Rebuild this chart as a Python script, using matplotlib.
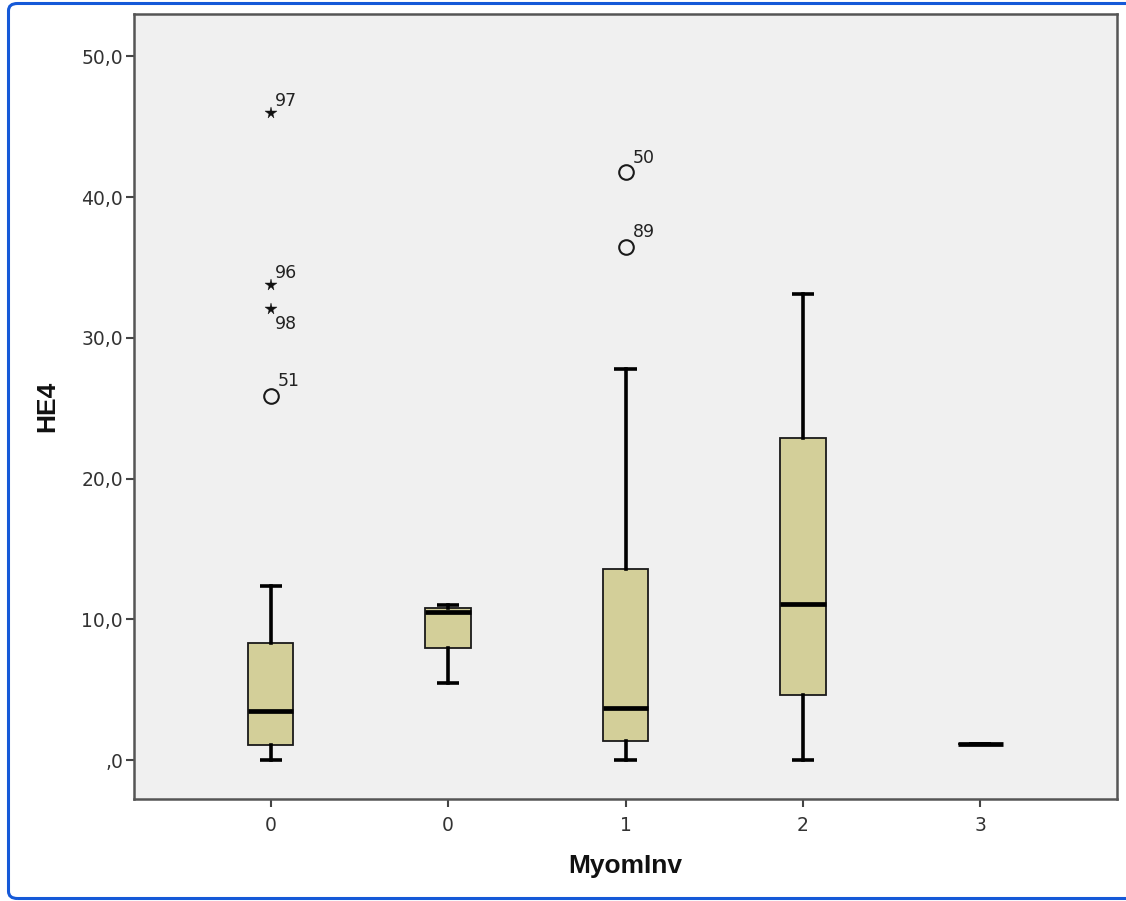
import matplotlib
matplotlib.use("Agg")
import matplotlib.pyplot as plt
from matplotlib.patches import FancyBboxPatch
from matplotlib.ticker import FuncFormatter, FixedLocator

# ---- data ----
categories = ["0", "0", "1", "2", "3"]
whislo = [0.0, 5.5, 0.0, 0.0, 1.13]
q1 = [1.05, 8.0, 1.35, 4.65, 1.13]
med = [3.5, 10.55, 3.7, 11.1, 1.13]
q3 = [8.3, 10.85, 13.6, 22.9, 1.13]
whishi = [12.35, 11.0, 27.8, 33.1, 1.13]

# outliers: (group index, value, case label)
outlier_group = [0, 2, 2]
outlier_value = [25.9, 36.45, 41.75]
outlier_label = ["51", "89", "50"]
extreme_group = [0, 0, 0]
extreme_value = [46.0, 33.75, 32.05]
extreme_label = ["97", "96", "98"]

yticks = [0, 10, 20, 30, 40, 50]

fig = plt.figure(figsize=(11.26, 9.01), dpi=100)
ax = fig.add_axes([134/1126, 1 - 799/901, (1117-134)/1126, (799-14)/901])
ax.set_facecolor("#f0f0f0")

positions = list(range(len(categories)))
stats = []
for i in positions:
    stats.append(dict(whislo=whislo[i], q1=q1[i], med=med[i], q3=q3[i],
                      whishi=whishi[i], fliers=[]))

ax.bxp(stats, positions=positions, widths=0.255, patch_artist=True,
       showfliers=False,
       boxprops=dict(facecolor="#d3cf99", edgecolor="#1a1a1a", linewidth=1.3),
       medianprops=dict(color="black", linewidth=3.4, solid_capstyle="butt"),
       whiskerprops=dict(color="black", linewidth=2.6),
       capprops=dict(color="black", linewidth=2.6, solid_capstyle="butt"),
       capwidths=0.125)

# outliers
ox = [positions[g] for g in outlier_group]
ax.plot(ox, outlier_value, linestyle="none", marker="o", markersize=10.5,
        markerfacecolor="none", markeredgecolor="#1a1a1a", markeredgewidth=1.5)
ex = [positions[g] for g in extreme_group]
ax.plot(ex, extreme_value, linestyle="none", marker="*", markersize=8.5,
        color="#111111", markeredgewidth=0.3)

lab_kw = dict(fontsize=12.5, color="#222222", textcoords="offset points", ha="left")
for x, v, lab in zip(ox, outlier_value, outlier_label):
    ax.annotate(lab, (x, v), xytext=(5, 4), va="bottom", **lab_kw)
for x, v, lab in zip(ex, extreme_value, extreme_label):
    if lab == "98":
        ax.annotate(lab, (x, v), xytext=(3, -4), va="top", **lab_kw)
    else:
        ax.annotate(lab, (x, v), xytext=(3, 2), va="bottom", **lab_kw)

ax.set_xlim(-0.77, 4.77)
ax.set_ylim(-2.75, 53.0)
ax.yaxis.set_major_locator(FixedLocator(yticks))

def fmt(v, pos):
    s = "%.1f" % v
    s = s.replace(".", ",")
    if s.startswith("0,"):
        s = s[1:]
    return s

ax.yaxis.set_major_formatter(FuncFormatter(fmt))
ax.set_xticks(positions)
ax.set_xticklabels(categories)
ax.tick_params(axis="both", direction="out", length=6, width=1.5,
               colors="#444444", labelcolor="#333333", labelsize=13.5)
ax.tick_params(axis="x", pad=6)
ax.tick_params(axis="y", pad=2)
for sp in ax.spines.values():
    sp.set_color("#555555")
    sp.set_linewidth(1.8)

ax.set_xlabel("MyomInv", fontsize=19, fontweight="bold",
              family="Liberation Sans", color="#111111", labelpad=14)
ax.set_ylabel("HE4", fontsize=19, fontweight="bold",
              family="Liberation Sans", color="#111111", labelpad=16)

# blue frame around the figure
frame = FancyBboxPatch((8.5/1126, 2.5/901), 1.2, (899-4)/901,
                       boxstyle="round,pad=0,rounding_size=0.008",
                       transform=fig.transFigure, fill=False,
                       edgecolor="#1559d8", linewidth=2.2, clip_on=False)
fig.patches.append(frame)

fig.savefig("out.png", dpi=100)
